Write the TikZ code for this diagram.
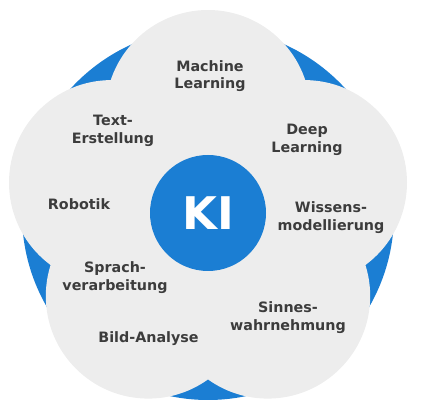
\documentclass[tikz,border=0pt]{standalone}
\usepackage{fontspec}
\setmainfont{DejaVu Sans}
\definecolor{kiblue}{HTML}{1B7ED3}
\definecolor{petal}{HTML}{EDEDED}
\definecolor{txt}{HTML}{3C3C3C}
\begin{document}
\begin{tikzpicture}[x=1pt,y=-1pt,
  disc/.style={circle, draw=none, inner sep=0pt},
  petalc/.style={disc, fill=petal, minimum size=205pt},
  lbl/.style={align=center, text=txt, font=\bfseries\fontsize{14.3}{17.5}\selectfont, inner sep=0pt}]
\useasboundingbox (0,0) rectangle (421,411);
\node[disc, fill=kiblue, minimum size=372pt] (ring) at (208,214) {};
\node[petalc] (p1) at (208,112.5) {};
\node[petalc] (p2) at (304.5,182.6) {};
\node[petalc] (p3) at (267.7,296.1) {};
\node[petalc] (p4) at (148.3,296.1) {};
\node[petalc] (p5) at (111.5,182.6) {};
\node[disc, fill=kiblue, minimum size=116pt, text=white, font=\bfseries\fontsize{45}{45}\selectfont] (ki) at (208,213) {KI};
\node[lbl] (ml) at (210,76) {Machine\\Learning};
\node[lbl] (dl) at (307,140) {Deep\\Learning};
\node[lbl] (te) at (113,131) {Text-\\Erstellung};
\node[lbl] (ro) at (79,204) {Robotik};
\node[lbl] (wm) at (331,217.5) {Wissens-\\modellierung};
\node[lbl] (sv) at (115,277.5) {Sprach-\\verarbeitung};
\node[lbl] (sw) at (288,317.5) {Sinnes-\\wahrnehmung};
\node[lbl] (ba) at (148.5,339) {Bild-Analyse};
\end{tikzpicture}
\end{document}
